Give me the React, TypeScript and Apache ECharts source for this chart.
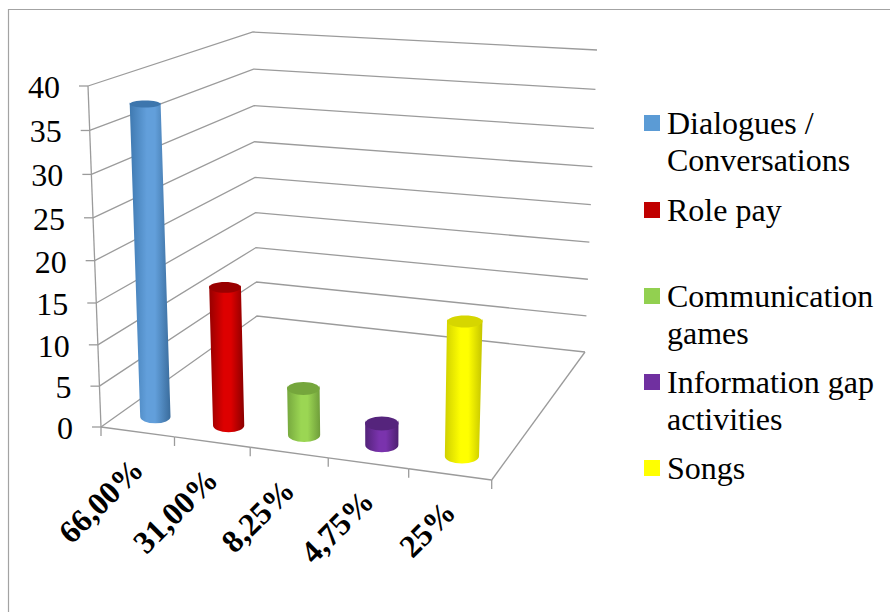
import React, { useEffect, useRef } from "react";
import * as echarts from "echarts";

// Chart content
const categories = ["66,00%", "31,00%", "8,25%", "4,75%", "25%"];
const seriesNames = ["Dialogues / Conversations", "Role pay", "Communication games", "Information gap activities", "Songs"];
const seriesValues = [37.5, 17, 6, 3, 16];
const yTicks = [0, 5, 10, 15, 20, 25, 30, 35, 40];
const legendLines = [
  ["Dialogues /", "Conversations"],
  ["Role pay"],
  ["Communication", "games"],
  ["Information gap", "activities"],
  ["Songs"],
];

// Cylinder shading: edge, highlight, far edge, cap
const barShades = [
  ["#3f79b0", "#629fdb", "#3a6c9c", "#3d76ad"],
  ["#960000", "#dd0000", "#8a0000", "#990000"],
  ["#76a83e", "#9bd653", "#6f9d3a", "#75a63c"],
  ["#53237a", "#7a33ad", "#4d2070", "#55247c"],
  ["#d0d000", "#ffff00", "#c4c400", "#d6d600"],
];
const legendColors = ["#5b9bd5", "#c00000", "#92d050", "#7030a0", "#ffff00"];

// Layout of the box the perspective is projected from
const FLOOR = [[101, 427], [491.7, 480], [585, 352], [257, 316]];
const ROOF = [[88, 86], [503, 116], [597, 50], [253, 32]];
const GRID = { left: 101, top: 86, width: 390, height: 341 };
const LEGEND_ROWS = [115, 202, 288, 374, 460];
const BAR_DEPTH = 0.1;
const BAR_HALF_SPAN = 0.042;
const GRID_COLOR = "#9b9b9b";
const SERIF = '"Liberation Serif", "Times New Roman", serif';

// Maps the unit square onto a quadrilateral
function squareToQuad(q: number[][]) {
  const [[x0, y0], [x1, y1], [x2, y2], [x3, y3]] = q;
  const dx1 = x1 - x2, dx2 = x3 - x2, sx = x0 - x1 + x2 - x3;
  const dy1 = y1 - y2, dy2 = y3 - y2, sy = y0 - y1 + y2 - y3;
  const den = dx1 * dy2 - dx2 * dy1;
  const g = (sx * dy2 - dx2 * sy) / den;
  const h = (dx1 * sy - sx * dy1) / den;
  const a = x1 - x0 + g * x1, b = x3 - x0 + h * x3;
  const d = y1 - y0 + g * y1, e = y3 - y0 + h * y3;
  return (u: number, w: number) => {
    const k = g * u + h * w + 1;
    return [(a * u + b * w + x0) / k, (d * u + e * w + y0) / k];
  };
}
const floorMap = squareToQuad(FLOOR);
const roofMap = squareToQuad(ROOF);

// u: along the category axis, w: depth, v: share of the value axis
function project(u: number, w: number, v: number) {
  const f = floorMap(u, w);
  const r = roofMap(u, w);
  const t = v / (v + (1 - v) * 1.05);
  return [f[0] + (r[0] - f[0]) * t, f[1] + (r[1] - f[1]) * t];
}

// Turns a cartesian pixel from the grid into axis shares
function toShares(pt: number[], cs: any) {
  return [(pt[0] - cs.x) / cs.width, (cs.y + cs.height - pt[1]) / cs.height];
}

const renderWalls = (params: any, api: any) => {
  const value = api.value(1);
  const [, v] = toShares(api.coord([0, value]), params.coordSys);
  const a = project(0, 0, v);
  const b = project(0, 1, v);
  const c = project(1, 1, v);
  const lineStyle = { stroke: GRID_COLOR, lineWidth: 1.3, fill: "none" };
  return {
    type: "group",
    children: [
      { type: "polyline", shape: { points: [a, b, c] }, style: lineStyle },
      { type: "line", shape: { x1: a[0] - 9, y1: a[1], x2: a[0], y2: a[1] }, style: lineStyle },
      {
        type: "text",
        style: {
          text: String(value),
          x: a[0] - 28,
          y: a[1] + 1,
          align: "right",
          verticalAlign: "middle",
          fill: "#000",
          font: `32px ${SERIF}`,
        },
      },
    ],
  };
};

const renderFloorEdges = (params: any, api: any) => {
  const i = api.value(0);
  const u0 = i / categories.length;
  const u1 = (i + 1) / categories.length;
  const a = project(u0, 0, 0);
  const b = project(u1, 0, 0);
  const mid = project((u0 + u1) / 2, 0, 0);
  const lineStyle = { stroke: GRID_COLOR, lineWidth: 1.3, fill: "none" };
  const children: any[] = [
    { type: "line", shape: { x1: a[0], y1: a[1], x2: b[0], y2: b[1] }, style: lineStyle },
    { type: "line", shape: { x1: b[0], y1: b[1], x2: b[0], y2: b[1] + 9 }, style: lineStyle },
    {
      type: "text",
      x: mid[0],
      y: mid[1] + 32,
      rotation: Math.PI / 4,
      style: {
        text: categories[i],
        x: 0,
        y: 0,
        align: "right",
        verticalAlign: "middle",
        fill: "#000",
        font: `bold 32px ${SERIF}`,
      },
    },
  ];
  if (i === 0) {
    children.push({ type: "line", shape: { x1: a[0], y1: a[1], x2: a[0], y2: a[1] + 9 }, style: lineStyle });
    const top = project(0, 0, 1);
    children.push({ type: "line", shape: { x1: top[0], y1: top[1], x2: a[0], y2: a[1] }, style: lineStyle });
  }
  if (i === categories.length - 1) {
    const back = project(1, 1, 0);
    children.push({ type: "line", shape: { x1: b[0], y1: b[1], x2: back[0], y2: back[1] }, style: lineStyle });
  }
  return { type: "group", children };
};

const renderCylinder = (shades: string[]) => (params: any, api: any) => {
  const cs = params.coordSys;
  const [u, v] = toShares(api.coord([api.value(0), api.value(1)]), cs);
  const bottom = project(u, BAR_DEPTH, 0);
  const top = project(u, BAR_DEPTH, v);
  const halfWidth = (level: number) => Math.abs(project(u + BAR_HALF_SPAN, BAR_DEPTH, level)[0] - project(u - BAR_HALF_SPAN, BAR_DEPTH, level)[0]) / 2;
  const halfDepth = (level: number) => Math.abs(project(u, BAR_DEPTH + 0.05, level)[1] - project(u, BAR_DEPTH - 0.05, level)[1]) / 2;
  const rb = halfWidth(0), rt = halfWidth(v);
  const hb = halfDepth(0), ht = Math.max(halfDepth(v), 3.5);
  const body = `M${top[0] - rt} ${top[1]}L${bottom[0] - rb} ${bottom[1]}A${rb} ${hb} 0 0 0 ${bottom[0] + rb} ${bottom[1]}L${top[0] + rt} ${top[1]}A${rt} ${ht} 0 0 1 ${top[0] - rt} ${top[1]}Z`;
  const x0 = Math.min(top[0] - rt, bottom[0] - rb);
  const y0 = top[1] - ht;
  const x1 = Math.max(top[0] + rt, bottom[0] + rb);
  const y1 = bottom[1] + hb;
  return {
    type: "group",
    children: [
      {
        type: "path",
        shape: { pathData: body, x: x0, y: y0, width: x1 - x0, height: y1 - y0, layout: "center" },
        style: {
          fill: new echarts.graphic.LinearGradient(0, 0, 1, 0, [
            { offset: 0, color: shades[0] },
            { offset: 0.42, color: shades[1] },
            { offset: 0.62, color: shades[1] },
            { offset: 1, color: shades[2] },
          ]),
        },
      },
      {
        type: "ellipse",
        shape: { cx: top[0], cy: top[1], rx: rt, ry: ht },
        style: { fill: shades[3] },
      },
    ],
  };
};

function buildOption() {
  const legendGraphics: any[] = [];
  legendLines.forEach((lines, i) => {
    legendGraphics.push({
      type: "rect",
      shape: { x: 644, y: LEGEND_ROWS[i], width: 16, height: 16 },
      style: { fill: legendColors[i] },
    });
    lines.forEach((line, j) => {
      legendGraphics.push({
        type: "text",
        x: 667,
        y: LEGEND_ROWS[i] + 8 + j * 37,
        style: { text: line, fill: "#000", font: `32px ${SERIF}`, verticalAlign: "middle", align: "left" },
      });
    });
  });

  return {
    animation: false,
    backgroundColor: "#fff",
    grid: GRID,
    xAxis: { type: "category", data: categories, show: false },
    yAxis: { type: "value", min: 0, max: 40, interval: 5, show: false },
    graphic: [
      {
        type: "rect",
        shape: { x: 8.5, y: 9.5, width: 900, height: 700 },
        style: { fill: "none", stroke: "#a3a3a3", lineWidth: 1.2 },
      },
      ...legendGraphics,
    ],
    series: [
      {
        type: "custom",
        name: "walls",
        renderItem: renderWalls,
        data: yTicks.map((t) => [0, t]),
        encode: { x: 0, y: 1 },
        z: 1,
      },
      {
        type: "custom",
        name: "floor",
        renderItem: renderFloorEdges,
        data: categories.map((_, i) => [i, 0]),
        encode: { x: 0, y: 1 },
        z: 2,
      },
      ...seriesNames.map((name, i) => ({
        type: "custom",
        name,
        renderItem: renderCylinder(barShades[i]),
        data: [[i, seriesValues[i]]],
        encode: { x: 0, y: 1 },
        z: 3,
      })),
    ],
  };
}

export default function App() {
  const ref = useRef<HTMLDivElement>(null);
  useEffect(() => {
    const chart = echarts.init(ref.current as HTMLDivElement, undefined, { renderer: "svg" });
    chart.setOption(buildOption() as any);
    return () => chart.dispose();
  }, []);
  return <div ref={ref} style={{ position: "fixed", left: 0, top: 0, width: 890, height: 612 }} />;
}
